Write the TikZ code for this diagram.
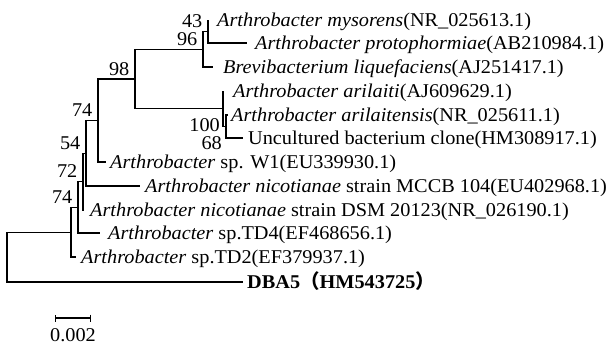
\documentclass[tikz,border=0pt]{standalone}
\usepackage{fontspec}
\setmainfont{Liberation Serif}[FakeStretch=1.04]
\newfontfamily\cjk{Noto Sans CJK SC}
\usetikzlibrary{arrows.meta,calc}
\newcommand{\taxfont}{\fontsize{19.5}{22}\selectfont}
\tikzset{
  branch/.style={line width=1.3pt, line join=miter},
  leaf/.style={anchor=base west, inner sep=0pt, yshift=-6.5pt, font=\taxfont},
  boot/.style={anchor=base east, inner sep=0pt, font=\taxfont},
  bootup/.style={boot, xshift=-5.5pt, yshift=4pt},
  scalebar/.style={line width=1.3pt, {Bar[width=7pt,line width=1.3pt]}-{Bar[width=7pt,line width=1.3pt]}}
}

\begin{document}
\begin{tikzpicture}[x=1pt, y=-1pt]
  \useasboundingbox (0,0) rectangle (611,349);

  % leaf tips
  \coordinate (t1) at (208,20);
  \coordinate (t2) at (247,43);
  \coordinate (t3) at (213,67);
  \coordinate (t4) at (223,91);
  \coordinate (t5) at (228,115);
  \coordinate (t6) at (243,138);
  \coordinate (t7) at (106,162);
  \coordinate (t8) at (140,186);
  \coordinate (t9) at (84,210);
  \coordinate (t10) at (100,233);
  \coordinate (t11) at (76,257);
  \coordinate (t12) at (243,282);

  % internal nodes
  \coordinate (n43) at (208,31.5);
  \coordinate (n96) at (203,49.2);
  \coordinate (n68) at (226,126.5);
  \coordinate (n100) at (223,108.8);
  \coordinate (n98) at (135,79);
  \coordinate (n74a) at (98,120.5);
  \coordinate (n54) at (86,153.2);
  \coordinate (n72) at (83,181.6);
  \coordinate (n74b) at (78,207.3);
  \coordinate (n0) at (71,232.2);
  \coordinate (root) at (7,257.1);

  % branches
  \draw[branch] (n43) |- (t1);
  \draw[branch] (n43) |- (t2);
  \draw[branch] (n96) |- (n43);
  \draw[branch] (n96) |- (t3);
  \draw[branch] (n68) |- (t5);
  \draw[branch] (n68) |- (t6);
  \draw[branch] (n100) |- (t4);
  \draw[branch] (n100) |- (n68);
  \draw[branch] (n98) |- (n96);
  \draw[branch] (n98) |- (n100);
  \draw[branch] (n74a) |- (n98);
  \draw[branch] (n74a) |- (t7);
  \draw[branch] (n54) |- (n74a);
  \draw[branch] (n54) |- (t8);
  \draw[branch] (n72) |- (n54);
  \draw[branch] (n72) |- (t9);
  \draw[branch] (n74b) |- (n72);
  \draw[branch] (n74b) |- (t10);
  \draw[branch] (n0) |- (n74b);
  \draw[branch] (n0) |- (t11);
  \draw[branch] (root) |- (n0);
  \draw[branch] (root) |- (t12);

  % taxa
  \node[leaf] (mysorens) at (217,20) {\textit{Arthrobacter mysorens}(NR\_025613.1)};
  \node[leaf] (protophormiae) at (255,43) {\textit{Arthrobacter protophormiae}(AB210984.1)};
  \node[leaf] (brevi) at (223,67) {\textit{Brevibacterium liquefaciens}(AJ251417.1)};
  \node[leaf] (arilaiti) at (233,91) {\textit{Arthrobacter arilaiti}(AJ609629.1)};
  \node[leaf] (arilaitensis) at (231,115) {\textit{Arthrobacter arilaitensis}(NR\_025611.1)};
  \node[leaf] (uncultured) at (248,138) {Uncultured bacterium clone(HM308917.1)};
  \node[leaf] (w1) at (110,162) {\textit{Arthrobacter} sp. W1(EU339930.1)};
  \node[leaf] (mccb) at (145,186) {\textit{Arthrobacter nicotianae} strain MCCB 104(EU402968.1)};
  \node[leaf] (dsm) at (90,210) {\textit{Arthrobacter nicotianae} strain DSM 20123(NR\_026190.1)};
  \node[leaf] (td4) at (108,233) {\textit{Arthrobacter} sp.TD4(EF468656.1)};
  \node[leaf] (td2) at (81,257) {\textit{Arthrobacter} sp.TD2(EF379937.1)};
  \node[leaf] (dba5) at (247,282) {\textbf{DBA5{\cjk （}HM543725{\cjk ）}}};

  % bootstrap values
  \node[bootup] (b43) at (n43) {43};
  \node[bootup] (b96) at (n96) {96};
  \node[bootup] (b98) at (n98) {98};
  \node[bootup] (b74a) at (n74a) {74};
  \node[bootup] (b54) at (n54) {54};
  \node[bootup] (b72) at (n72) {72};
  \node[bootup] (b74b) at (n74b) {74};
  \node[boot] (b100) at ([shift={(-6,5)}]n68) {100};
  \node[boot] (b68) at ([shift={(-4,23)}]n68) {68};

  % scale bar
  \coordinate (sbl) at (55,318);
  \coordinate (sbr) at (91,318);
  \draw[scalebar] (sbl) -- (sbr);
  \node[boot, anchor=base] (sblabel) at ($(sbl)!.5!(sbr)+(0,23)$) {0.002};
\end{tikzpicture}
\end{document}
